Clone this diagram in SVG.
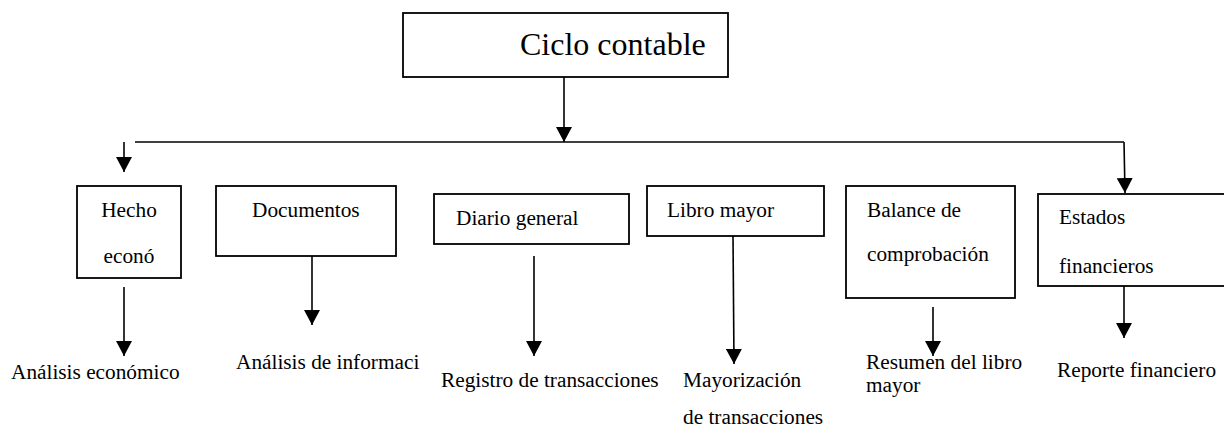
<svg xmlns="http://www.w3.org/2000/svg" width="1224" height="435" viewBox="0 0 1224 435">
<style>
  .box { fill: #ffffff; stroke: #000000; stroke-width: 1.8; }
  text { font-family: 'Liberation Serif', 'Times New Roman', Times, 'DejaVu Serif', serif; fill: #000000; }
  .t { font-size: 21.3px; }
  .title { font-size: 32px; }
  .ln { fill: none; stroke: #000000; stroke-width: 1.6; }
  .arr { marker-end: url(#ah); }
</style>
<defs>
  <marker id="ah" markerUnits="userSpaceOnUse" markerWidth="16" markerHeight="16" viewBox="0 0 16 16" refX="15" refY="8" orient="auto">
    <path d="M0,0 L15,8 L0,16 Z" fill="#000000"/>
  </marker>
</defs>
<rect width="1224" height="435" fill="#ffffff"/>

<g id="connectors">
  <path class="ln arr" d="M564,77 L564,142"/>
  <path class="ln" d="M135,142 L1124,142"/>
  <path class="ln arr" d="M124,142 L124,172"/>
  <path class="ln arr" d="M1124,142 L1125,193"/>
  <path class="ln arr" d="M124,287 L124,356"/>
  <path class="ln arr" d="M312,256 L312,325"/>
  <path class="ln arr" d="M534,256 L534,356"/>
  <path class="ln arr" d="M733,236 L734,364"/>
  <path class="ln arr" d="M933,307 L933,356"/>
  <path class="ln arr" d="M1124,286 L1124,338"/>
</g>

<g id="ciclo-contable">
  <rect class="box" x="403" y="13" width="325" height="64"/>
  <text class="title" x="520" y="55" font-family="Liberation Serif, serif">Ciclo contable</text>
</g>

<g id="hecho-economico">
  <rect class="box" x="77" y="186" width="104" height="92"/>
  <text class="t" x="129" y="217" text-anchor="middle">Hecho</text>
  <text class="t" x="129" y="263" text-anchor="middle">econó</text>
</g>

<g id="documentos">
  <rect class="box" x="216" y="186" width="180" height="70"/>
  <text class="t" x="252" y="217">Documentos</text>
</g>

<g id="diario-general">
  <rect class="box" x="434" y="194" width="195" height="50"/>
  <text class="t" x="456" y="225">Diario general</text>
</g>

<g id="libro-mayor">
  <rect class="box" x="647" y="186" width="177" height="50"/>
  <text class="t" x="667" y="217">Libro mayor</text>
</g>

<g id="balance">
  <rect class="box" x="846" y="186" width="169" height="112"/>
  <text class="t" x="867" y="217">Balance de</text>
  <text class="t" x="867" y="261">comprobación</text>
</g>

<g id="estados-financieros">
  <rect class="box" x="1038" y="194" width="200" height="92"/>
  <text class="t" x="1059" y="224">Estados</text>
  <text class="t" x="1059" y="273">financieros</text>
</g>

<g id="labels">
  <text class="t" x="11" y="379">Análisis económico</text>
  <text class="t" x="236" y="369">Análisis de informaci</text>
  <text class="t" x="441" y="387">Registro de transacciones</text>
  <text class="t" x="683" y="387">Mayorización</text>
  <text class="t" x="683" y="424">de transacciones</text>
  <text class="t" x="866" y="369">Resumen del libro</text>
  <text class="t" x="866" y="392">mayor</text>
  <text class="t" x="1057" y="377">Reporte financiero</text>
</g>
</svg>
